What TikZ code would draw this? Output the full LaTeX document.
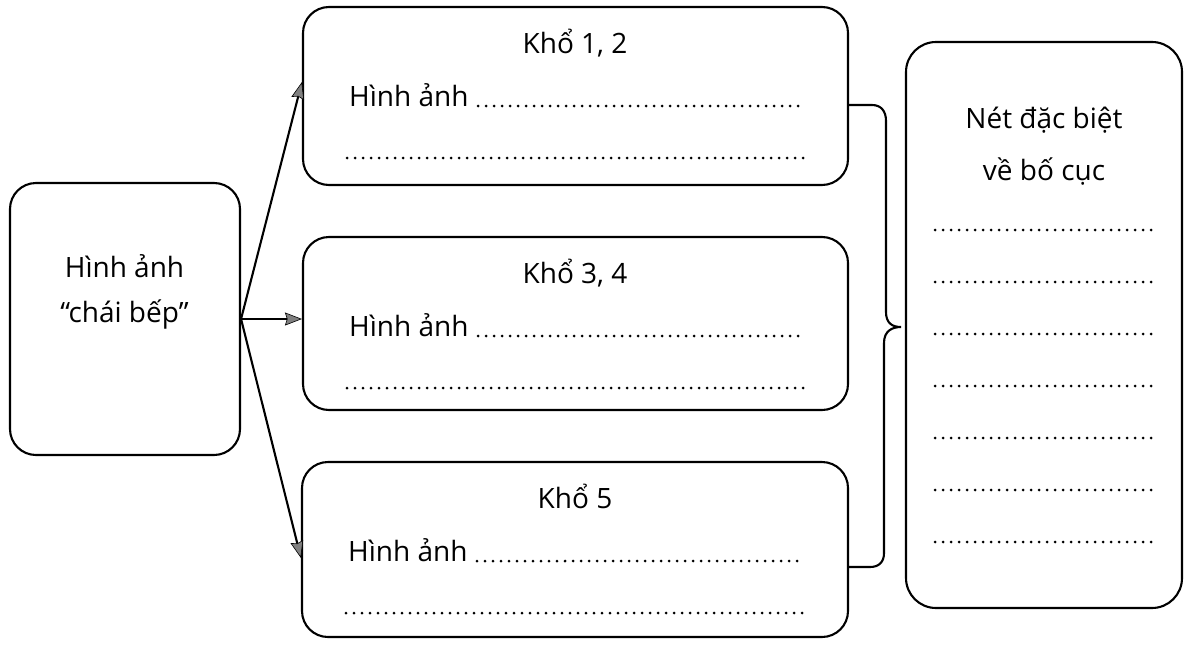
\documentclass[tikz,border=0pt]{standalone}
\usepackage{fontspec}
\setmainfont{Open Sans}
\usetikzlibrary{arrows.meta}
\begin{document}
\begin{tikzpicture}[x=1pt,y=-1pt,
  line/.style={line width=2.1pt, black},
  box/.style={line, draw, rectangle, rounded corners=26pt, inner sep=0pt},
  txt/.style={font=\fontsize{28}{32}\selectfont, inner sep=0pt, anchor=base},
  dotrow/.style={line width=3pt, line cap=round, dash pattern=on 0pt off 8pt},
  arr/.style={line, -{Stealth[length=17pt,width=13pt,inset=2pt,line width=0.6pt,fill=black!50]}}]
\useasboundingbox (0,0) rectangle (1190,645);

% boxes
\node[box, minimum width=230pt, minimum height=272pt] (hinh) at (125,319) {};
\node[box, minimum width=545pt, minimum height=178pt] (b1) at (575.5,96) {};
\node[box, minimum width=545pt, minimum height=173pt] (b2) at (575.5,323.5) {};
\node[box, minimum width=546pt, minimum height=175pt] (b3) at (575,549.5) {};
\node[box, rounded corners=30pt, minimum width=276pt, minimum height=566pt] (net) at (1044,325) {};

% left box text
\node[txt] (h0) at (124.5,277) {Hình ảnh};
\node[txt] (h0b) at (124.5,322) {“chái bếp”};

% stanza boxes
\node[txt] (k1) at (575,53) {Khổ 1, 2};
\node[txt, anchor=base west] (h1) at (349,106) {Hình ảnh};
\draw[dotrow] (478,106) -- (803,106);
\draw[dotrow] (347,158) -- (806,158);

\node[txt] (k2) at (575,283) {Khổ 3, 4};
\node[txt, anchor=base west] (h2) at (349,336) {Hình ảnh};
\draw[dotrow] (478,336) -- (803,336);
\draw[dotrow] (347,388) -- (806,388);

\node[txt] (k3) at (575,508) {Khổ 5};
\node[txt, anchor=base west] (h3) at (348,561) {Hình ảnh};
\draw[dotrow] (477,561) -- (802,561);
\draw[dotrow] (346,613) -- (805,613);

% right box
\node[txt] (n1) at (1044,128) {Nét đặc biệt};
\node[txt] (n2) at (1044,180) {về bố cục};
\foreach \k in {0,...,6}
  \draw[dotrow] (935,230+52*\k) -- (1152,230+52*\k);

% arrows
\draw[arr] (hinh.east) -- (b1.west |- 0,82);
\draw[arr] (hinh.east) -- (b2.west |- hinh.east);
\draw[arr] (hinh.east) -- (b3.west |- 0,558);

% brace
\draw[line] (b1.east |- 0,105) -- (872,105)
  .. controls (881,105) and (886,111) .. (886,121)
  -- (886,312)
  .. controls (886,323) and (892,327) .. (901,327)
  .. controls (892,327) and (884,331) .. (884,343)
  -- (884,553)
  .. controls (884,562) and (879,567) .. (870,567)
  -- (b3.east |- 0,567);
\end{tikzpicture}
\end{document}
